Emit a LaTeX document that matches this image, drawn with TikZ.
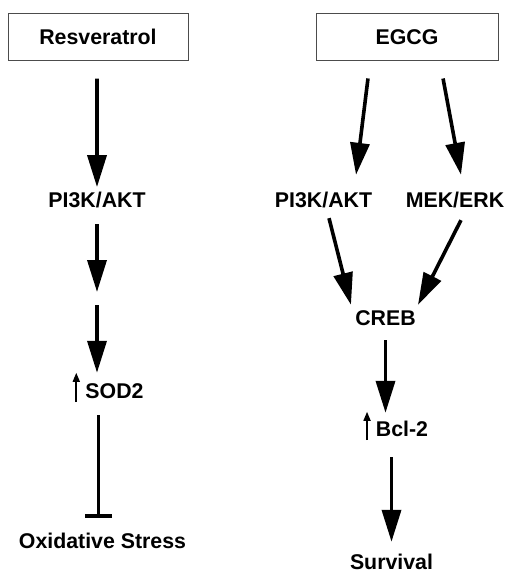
\documentclass[tikz,border=0pt]{standalone}
\usepackage{fontspec}
\setmainfont{Liberation Sans}
\usepackage{tikz}
\usetikzlibrary{arrows.meta}
\usetikzlibrary{positioning}
\newcommand{\pathfont}{\bfseries\fontsize{21.4}{26}\selectfont}
\tikzset{>={Triangle[length=32bp,width=19bp]}, line join=miter,
  label/.style={inner sep=0pt, font=\pathfont, text height=15.4bp, text depth=0pt},
  drug/.style={label, draw=black!70, line width=1bp, minimum width=181bp, minimum height=47bp},
  pathway/.style={->, line width=3.6bp},
  blocks/.style={-{Bar[width=27bp]}, line width=3.6bp},
  upreg/.style={-{Triangle[length=9bp,width=7bp]}, line width=1.6bp}}

\begin{document}
\begin{tikzpicture}[x=1bp,y=1bp]
\useasboundingbox (0bp,0bp) rectangle (522bp,-572bp);
%%
\node (resv) at (98bp,-36.5bp) [drug,minimum width=180bp] {Resveratrol};
  \node (egcg) at (407bp,-36.5bp) [drug,minimum width=182bp] {EGCG};
  \node (pi3kL) at (97bp,-200bp) [label] {PI3K/AKT};
  \coordinate (mid) at (97bp,-298bp);
  \node (sod2) at (114.5bp,-391bp) [label] {SOD2};
  \node (stress) at (102.5bp,-540.5bp) [label] {Oxidative Stress};
  \node (pi3kR) at (323.5bp,-200bp) [label] {PI3K/AKT};
  \node (mekerk) at (455bp,-200bp) [label] {MEK/ERK};
  \node (creb) at (385.5bp,-318bp) [label] {CREB};
  \node (bcl2) at (402bp,-429bp) [label] {Bcl-2};
  \node (survival) at (391.5bp,-561.5bp) [label] {Survival};
%
  \draw [pathway, shorten <=18bp, shorten >=5bp] ([xshift=-1bp]resv.south) -- (pi3kL.north);
  \draw [pathway, shorten <=16.3bp, shorten >=6bp] (pi3kL.south) -- (mid);
  \draw [pathway, shorten <=7bp, shorten >=10.3bp] (mid) -- (mid |- sod2.north);
  \draw [blocks, shorten <=16.3bp, shorten >=14.8bp] ([xshift=1.5bp]mid |- sod2.south) -- ([xshift=1.5bp]mid |- stress.north);
  \draw [upreg] ([xshift=-9bp,yshift=-3.3bp]sod2.south west) -- ([xshift=-9bp,yshift=10.3bp]sod2.north west);
%
  \draw [pathway, shorten <=18.1bp, shorten >=17.4bp] ([xshift=-36.8bp]egcg.south) -- ([xshift=30.4bp]pi3kR.north);
  \draw [pathway, shorten <=18.3bp, shorten >=17.6bp] ([xshift=32.7bp]egcg.south) -- ([xshift=9.2bp]mekerk.north);
  \draw [pathway, shorten <=10.6bp, shorten >=5.5bp] ([xshift=2.9bp]pi3kR.south) -- ([xshift=-33.2bp]creb.north);
  \draw [pathway, shorten <=13.8bp, shorten >=5.9bp] ([xshift=12.2bp]mekerk.south) -- ([xshift=29.8bp]creb.north);
  \draw [pathway, shorten <=14.3bp, shorten >=8.3bp] (creb.south) -- (creb.south |- bcl2.north);
  \draw [pathway, shorten <=20.3bp, shorten >=11.8bp] (survival.north |- bcl2.south) -- (survival.north);
  \draw [upreg] ([xshift=-8.7bp,yshift=-3.3bp]bcl2.south west) -- ([xshift=-8.7bp,yshift=9.3bp]bcl2.north west);
%
\end{tikzpicture}
\end{document}
